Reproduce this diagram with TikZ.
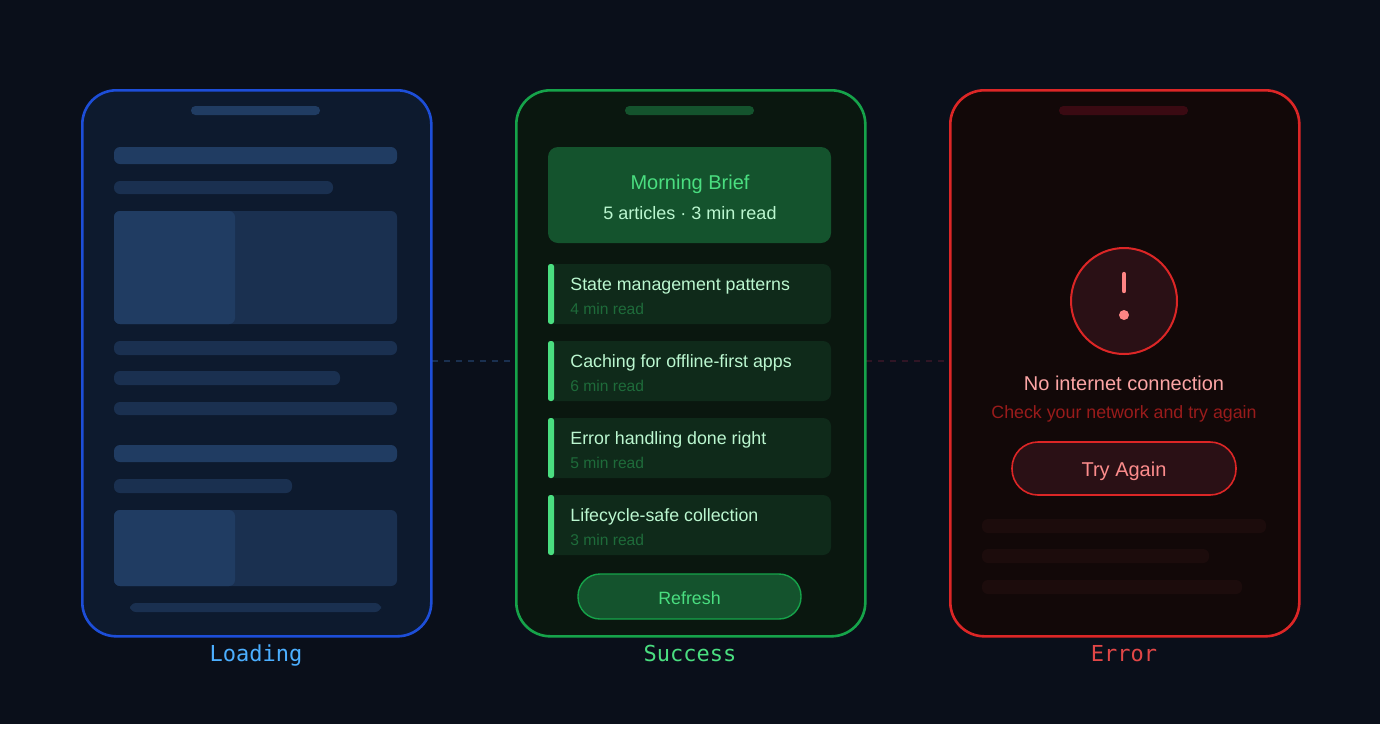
\documentclass[tikz,border=0pt]{standalone}
\usepackage{fontspec}
\setmainfont{Liberation Sans}
\setmonofont{DejaVu Sans Mono}
\begin{document}
\definecolor{bg}{HTML}{0A0F1A}
\definecolor{lbl}{HTML}{1D4ED8}
\definecolor{lfill}{HTML}{0D1A2E}
\definecolor{lsk}{HTML}{1A3050}
\definecolor{lsk2}{HTML}{203C62}
\definecolor{sbd}{HTML}{16A34A}
\definecolor{sfill}{HTML}{0A170F}
\definecolor{shead}{HTML}{14532D}
\definecolor{scard}{HTML}{0F2A1A}
\definecolor{sgreen}{HTML}{4ADE80}
\definecolor{slight}{HTML}{BBF7D0}
\definecolor{ssub}{HTML}{1E6B3A}
\definecolor{ebd}{HTML}{DC2626}
\definecolor{efill}{HTML}{120808}
\definecolor{ecirc}{HTML}{2A1015}
\definecolor{epink}{HTML}{FCA5A5}
\definecolor{esub}{HTML}{991B1B}
\definecolor{ebar}{HTML}{1C0C0C}
\definecolor{enotch}{HTML}{3A0A12}
\definecolor{snotch}{HTML}{14532D}
\begin{tikzpicture}[x=0.5pt,y=-0.5pt,
  phone/.style={line width=1.3pt,rounded corners=17pt},
  sk/.style={fill=lsk,rounded corners=3pt},
  txt/.style={inner sep=0pt,anchor=base},
  lab/.style={font=\ttfamily\fontsize{11}{13}\selectfont,inner sep=0pt,anchor=base}]
\fill[white] (0,0) rectangle (1400,745);
\fill[bg] (0,0) rectangle (1380,724);
% dashed connectors
\coordinate (d1a) at (432,361); \coordinate (d1b) at (513,361);
\coordinate (d2a) at (866,361); \coordinate (d2b) at (947,361);
\draw[dashed,color=lsk,line width=0.6pt] (d1a) -- (d1b);
\draw[dashed,color=enotch!70!lsk,line width=0.6pt] (d2a) -- (d2b);
% Loading
\node[phone,draw=lbl,fill=lfill,minimum width=174.5pt,minimum height=273pt,anchor=north west] (pl) at (81,89) {};
\fill[lsk2,rounded corners=2.2pt] (191,106) rectangle (320,115);
\fill[lsk2,rounded corners=3pt] (114,147) rectangle (397,164);
\fill[sk] (114,181) rectangle (333,194);
\fill[sk] (114,211) rectangle (397,324);
\fill[lsk2,rounded corners=3pt] (114,211) rectangle (235,324);
\fill[sk] (114,341) rectangle (397,355);
\fill[sk] (114,371) rectangle (340,385);
\fill[sk] (114,402) rectangle (397,415);
\fill[lsk2,rounded corners=3pt] (114,445) rectangle (397,462);
\fill[sk] (114,479) rectangle (292,493);
\fill[sk] (114,510) rectangle (397,586);
\fill[lsk2,rounded corners=3pt] (114,510) rectangle (235,586);
\fill[sk] (130,603) rectangle (381,612);
\node[lab,text=blue!45!cyan!70!white] (ll) at (256,661) {Loading};
% Success
\node[phone,draw=sbd,fill=sfill,minimum width=174.5pt,minimum height=273pt,anchor=north west] (ps) at (515,89) {};
\fill[snotch,rounded corners=2.2pt] (625,106) rectangle (754,115);
\fill[shead,rounded corners=5pt] (548,147) rectangle (831,243);
\node[txt,text=sgreen,font=\fontsize{10}{11}\selectfont] (mb) at (690,189) {Morning Brief};
\node[txt,text=slight,font=\fontsize{9}{10}\selectfont] (ma) at (690,219) {5 articles · 3 min read};
\foreach \y/\t/\s [count=\i] in {264/State management patterns/4 min read,341/Caching for offline-first apps/6 min read,418/Error handling done right/5 min read,495/Lifecycle-safe collection/3 min read}{
  \fill[scard,rounded corners=4pt] (548,\y) rectangle (831,\y+60);
  \fill[sgreen,rounded corners=1.2pt] (548,\y) rectangle (554,\y+60);
  \node[txt,anchor=base west,text=slight,font=\fontsize{8.9}{10}\selectfont] (ct\i) at (570,\y+26) {\t};
  \node[txt,anchor=base west,text=ssub,font=\fontsize{7.8}{9}\selectfont] (cs\i) at (570,\y+50) {\s};
}
\node[draw=sbd,fill=shead,line width=0.7pt,rounded corners=11pt,minimum width=111.5pt,minimum height=22.5pt] (rf) at (689.5,596.5) {};
\node[txt,text=sgreen,font=\fontsize{8.9}{10}\selectfont] at (689.5,604) {Refresh};
\node[lab,text=sgreen] (ls) at (690,661) {Success};
% Error
\node[phone,draw=ebd,fill=efill,minimum width=174.5pt,minimum height=273pt,anchor=north west] (pe) at (949,89) {};
\fill[enotch,rounded corners=2.2pt] (1059,106) rectangle (1188,115);
\node[circle,draw=ebd,fill=ecirc,line width=1pt,minimum size=53pt] (ci) at (1124,301) {};
\draw[epink!80!red,line width=2.2pt,line cap=round] (1124,274) -- (1124,291);
\fill[epink!80!red] (1124,315) circle (5);
\node[txt,text=epink,font=\fontsize{10}{11}\selectfont] (nt) at (1124,390) {No internet connection};
\node[txt,text=esub,font=\fontsize{8.9}{10}\selectfont] (ns) at (1124,418) {Check your network and try again};
\node[draw=ebd,fill=ecirc,line width=0.8pt,rounded corners=13pt,minimum width=112pt,minimum height=26.5pt] (tb) at (1124,468.5) {};
\node[txt,text=epink!85!red,font=\fontsize{10}{11}\selectfont] at (1124,476) {Try Again};
\fill[ebar,rounded corners=3pt] (982,519) rectangle (1266,533);
\fill[ebar,rounded corners=3pt] (982,549) rectangle (1209,563);
\fill[ebar,rounded corners=3pt] (982,580) rectangle (1242,594);
\node[lab,text=ebd!85!white] (le) at (1124,661) {Error};
\end{tikzpicture}
\end{document}
